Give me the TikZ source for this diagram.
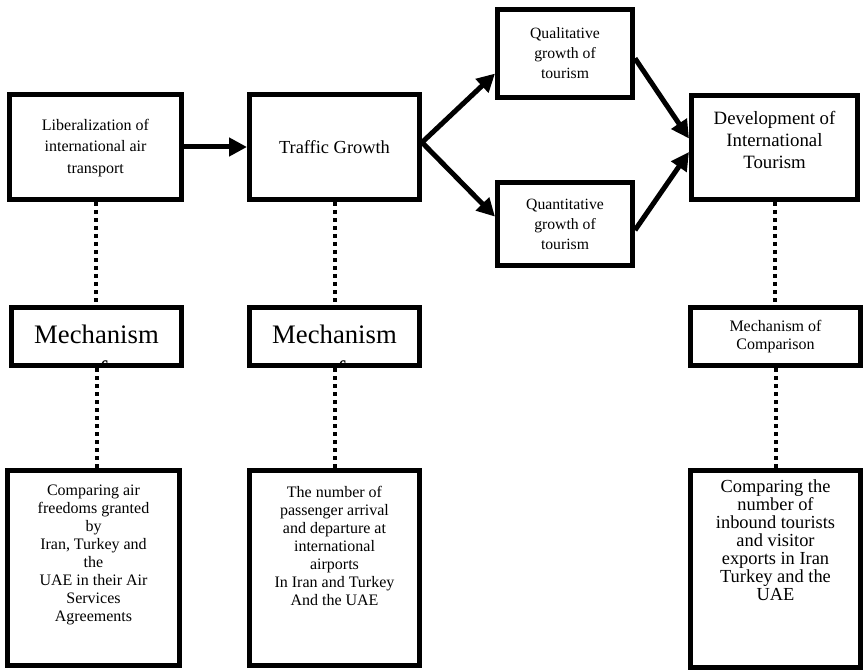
\documentclass[tikz,border=0pt]{standalone}
\usepackage{fontspec}
\setmainfont{Liberation Serif}
\usetikzlibrary{arrows.meta,positioning,calc}

\begin{document}
\begin{tikzpicture}[x=1pt, y=-1pt,
		box/.style={draw, line width=5pt, align=center, inner sep=0pt},
		flow/.style={line width=5pt, -{Triangle[length=18pt,width=18pt]}},
		dots/.style={line width=4pt, dash pattern=on 4pt off 4pt},
		bodytext/.style={align=center, inner sep=0pt},
		bigword/.style={font=\fontsize{26.7}{30.7}\selectfont, anchor=base}]
			%%%%% START %%%%%
			
			\useasboundingbox (0, 0) rectangle (865, 671);
			
			\node[box, minimum width=172pt, minimum height=105pt] (lib) at (95.5, 147) {};
			\node[bodytext, font=\fontsize{16}{21.5}\selectfont, below=27pt of lib.north] (libtxt) {Liberalization of\\international air\\transport};
			\node[box, minimum width=170pt, minimum height=105pt, font=\fontsize{18.4}{22}\selectfont] (traffic) at (334.5, 147) {Traffic Growth};
			\node[box, minimum width=135pt, minimum height=88pt, font=\fontsize{15.7}{20}\selectfont] (quali) at (565, 53.5) {Qualitative\\growth of\\tourism};
			\node[box, minimum width=135pt, minimum height=83pt, font=\fontsize{15.7}{20}\selectfont] (quanti) at (565, 224) {Quantitative\\growth of\\tourism};
			\node[box, minimum width=166pt, minimum height=104pt] (dev) at (774.5, 147.5) {};
			\node[bodytext, font=\fontsize{18.8}{22}\selectfont, below=18pt of dev.north] (devtxt) {Development of\\International\\Tourism};
			
			\node[box, minimum width=170pt, minimum height=58pt, path picture={
				\node[bigword] at ($(path picture bounding box.north)+(0, 35.5)$) {Mechanism};
				\node[bigword] at ($(path picture bounding box.north)+(0, 72)$) {of};
			}] (mech1) at (96.5, 336.5) {};
			\node[box, minimum width=170pt, minimum height=58pt, path picture={
				\node[bigword] at ($(path picture bounding box.north)+(0, 35.5)$) {Mechanism};
				\node[bigword] at ($(path picture bounding box.north)+(0, 72)$) {of};
			}] (mech2) at (334.5, 336.5) {};
			\node[box, minimum width=170pt, minimum height=58pt, font=\fontsize{16}{18}\selectfont] (mech3) at (775.5, 336.5) {Mechanism of\\Comparison};
			
			\node[box, minimum width=172pt, minimum height=195pt] (cmp1) at (93.5, 568) {};
			\node[box, minimum width=170pt, minimum height=195pt] (cmp2) at (334.5, 568) {};
			\node[box, minimum width=170pt, minimum height=197pt] (cmp3) at (775.5, 569) {};
			
			\node[bodytext, font=\fontsize{16}{18}\selectfont, below=17pt of cmp1.north] (cmp1txt) {Comparing air\\freedoms granted\\by\\Iran, Turkey and\\the\\UAE in their Air\\Services\\Agreements};
			\node[bodytext, font=\fontsize{16}{18}\selectfont, below=18pt of cmp2.north] (cmp2txt) {The number of\\passenger arrival\\and departure at\\international\\airports\\In Iran and Turkey\\And the UAE};
			\node[bodytext, font=\fontsize{18.4}{18}\selectfont, below=12pt of cmp3.north] (cmp3txt) {Comparing the\\number of\\inbound tourists\\and visitor\\exports in Iran\\Turkey and the\\UAE};
			
			\draw[flow] (lib) -- (traffic);
			\draw[flow] (traffic.3) -- (quali.196);
			\draw[flow] (traffic.3) -- (quanti.174);
			\draw[flow] (quali.-4) -- (dev.174);
			\draw[flow] (quanti.-5) -- (dev.183);
			
			\draw[dots] (lib.south) -- (lib.south |- mech1.north);
			\draw[dots] (mech1.south) -- (mech1.south |- cmp1.north);
			\draw[dots] (traffic.south) -- (traffic.south |- mech2.north);
			\draw[dots] (mech2.south) -- (mech2.south |- cmp2.north);
			\draw[dots] (dev.south) -- (dev.south |- mech3.north);
			\draw[dots] (mech3.south) -- (mech3.south |- cmp3.north);
			
			%%%%% END %%%%%
		\end{tikzpicture}
\end{document}
